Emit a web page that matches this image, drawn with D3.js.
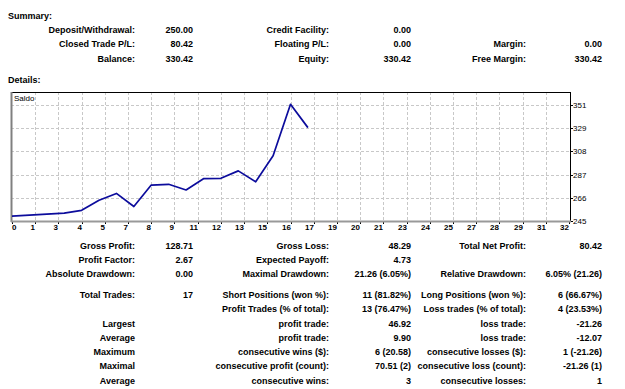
<!DOCTYPE html>
<html>
<head>
<meta charset="utf-8">
<script src="https://cdn.jsdelivr.net/npm/d3@7"></script>
<style>
  body { margin: 0; background: #fff; }
  svg text { font-family: 'Liberation Sans', Arial, sans-serif; }
</style>
</head>
<body>
<svg id="report" width="625" height="389"></svg>
<script>
// balance after each trade (trade 0 = deposit)
balance = [250.00, 250.9, 251.8, 252.6, 255.2, 264.4, 270.58, 258.68, 278.2, 278.9,
           273.7, 284.0, 284.3, 291.10, 281.17, 304.76, 351.68, 330.42]
xTickLabels = [0, 1, 3, 4, 5, 7, 8, 9, 11, 12, 13, 15, 16, 17, 19, 20, 21, 23, 24, 25, 27, 28, 29, 31, 32]
yTickLabels = [245, 266, 287, 308, 329, 351]

summaryRows = [
  ["Deposit/Withdrawal:", "250.00", "Credit Facility:", "0.00", "", ""],
  ["Closed Trade P/L:", "80.42", "Floating P/L:", "0.00", "Margin:", "0.00"],
  ["Balance:", "330.42", "Equity:", "330.42", "Free Margin:", "330.42"]
]
detailRows = [
  ["Gross Profit:", "128.71", "Gross Loss:", "48.29", "Total Net Profit:", "80.42"],
  ["Profit Factor:", "2.67", "Expected Payoff:", "4.73", "", ""],
  ["Absolute Drawdown:", "0.00", "Maximal Drawdown:", "21.26 (6.05%)", "Relative Drawdown:", "6.05% (21.26)"],
  ["Total Trades:", "17", "Short Positions (won %):", "11 (81.82%)", "Long Positions (won %):", "6 (66.67%)"],
  ["", "", "Profit Trades (% of total):", "13 (76.47%)", "Loss trades (% of total):", "4 (23.53%)"],
  ["Largest", "", "profit trade:", "46.92", "loss trade:", "-21.26"],
  ["Average", "", "profit trade:", "9.90", "loss trade:", "-12.07"],
  ["Maximum", "", "consecutive wins ($):", "6 (20.58)", "consecutive losses ($):", "1 (-21.26)"],
  ["Maximal", "", "consecutive profit (count):", "70.51 (2)", "consecutive loss (count):", "-21.26 (1)"],
  ["Average", "", "consecutive wins:", "3", "consecutive losses:", "1"]
]

svg = d3.select("#report")
colX = [135, 193, 329, 411, 526, 602]   // right edges of the six text columns

drawRows = function(rows, ys) {
  rows.forEach(function(r, i) {
    r.forEach(function(t, j) {
      if (t === "") return
      svg.append("text")
        .attr("x", colX[j]).attr("y", ys[i])
        .attr("text-anchor", "end").attr("dominant-baseline", "central")
        .style("font-size", "9px").style("font-weight", "bold").attr("fill", "#000")
        .text(t)
    })
  })
}

svg.append("text").attr("x", 8).attr("y", 16).attr("dominant-baseline", "central")
  .style("font-size", "9px").style("font-weight", "bold").text("Summary:")
svg.append("text").attr("x", 8).attr("y", 80).attr("dominant-baseline", "central")
  .style("font-size", "9px").style("font-weight", "bold").text("Details:")

drawRows(summaryRows, [30, 44, 59])
drawRows(detailRows, [245.7, 260, 274.3, 295, 309.3, 324, 338, 352.3, 366.3, 380.7])

// ---- balance chart (frame edges; note: "top" is taken by window.top)
frameL = 11; frameR = 570; frameT = 92; frameB = 221

x = d3.scaleLinear().domain([0, 32]).range([12, 569])
y = d3.scaleLinear().domain([245.5, 351.0]).range([frameB, 105])
yStep = (351.0 - 245.5) / 5

g = svg.append("g")

// grid
xTickLabels.forEach(function(lab, k) {
  var gx = Math.round(x(k * 32 / 24)) + 0.5
  if (k > 0 && k < 24) {
    g.append("line").attr("x1", gx).attr("x2", gx).attr("y1", frameT).attr("y2", frameB)
      .attr("stroke", "#c8c8c8").attr("stroke-dasharray", "3,2")
  }
  g.append("line").attr("x1", gx).attr("x2", gx).attr("y1", frameB).attr("y2", frameB + 3)
    .attr("stroke", "#000")
  g.append("text")
    .attr("x", k === 0 ? 12 : gx - 0.5).attr("y", frameB + 6)
    .attr("text-anchor", k === 0 ? "start" : "end").attr("dominant-baseline", "central")
    .style("font-size", "8px").style("font-weight", "bold").attr("fill", "#000")
    .text(lab)
})

yTickLabels.forEach(function(lab, i) {
  var gy = Math.round(y(245.5 + i * yStep)) + 0.5
  if (i > 0) {
    g.append("line").attr("x1", frameL).attr("x2", frameR).attr("y1", gy).attr("y2", gy)
      .attr("stroke", "#c8c8c8").attr("stroke-dasharray", "3,2")
  }
  g.append("line").attr("x1", frameR).attr("x2", frameR + 3).attr("y1", gy).attr("y2", gy)
    .attr("stroke", "#000")
  g.append("text")
    .attr("x", frameR + 3).attr("y", gy)
    .attr("dominant-baseline", "central")
    .style("font-size", "8px").attr("fill", "#000")
    .text(lab)
})

// frame
g.append("line").attr("x1", frameL).attr("x2", frameR + 0.5).attr("y1", frameT + 0.5).attr("y2", frameT + 0.5).attr("stroke", "#000")
g.append("line").attr("x1", frameR + 0.5).attr("x2", frameR + 0.5).attr("y1", frameT).attr("y2", frameB + 1).attr("stroke", "#000")
g.append("line").attr("x1", frameL + 0.5).attr("x2", frameL + 0.5).attr("y1", frameT).attr("y2", frameB + 1).attr("stroke", "#808080").attr("stroke-width", 2)
g.append("line").attr("x1", frameL).attr("x2", frameR + 1).attr("y1", frameB + 0.5).attr("y2", frameB + 0.5).attr("stroke", "#999").attr("stroke-width", 2)

g.append("text").attr("x", 14).attr("y", 98).attr("dominant-baseline", "central")
  .style("font-size", "8px").attr("fill", "#000").text("Saldo")

line = d3.line().x(function(d, i) { return x(i) }).y(function(d) { return y(d) })
g.append("path").datum(balance).attr("d", line)
  .attr("fill", "none").attr("stroke", "#0c0c9c").attr("stroke-width", 1.7)
  .attr("stroke-linejoin", "round")
</script>
</body>
</html>
